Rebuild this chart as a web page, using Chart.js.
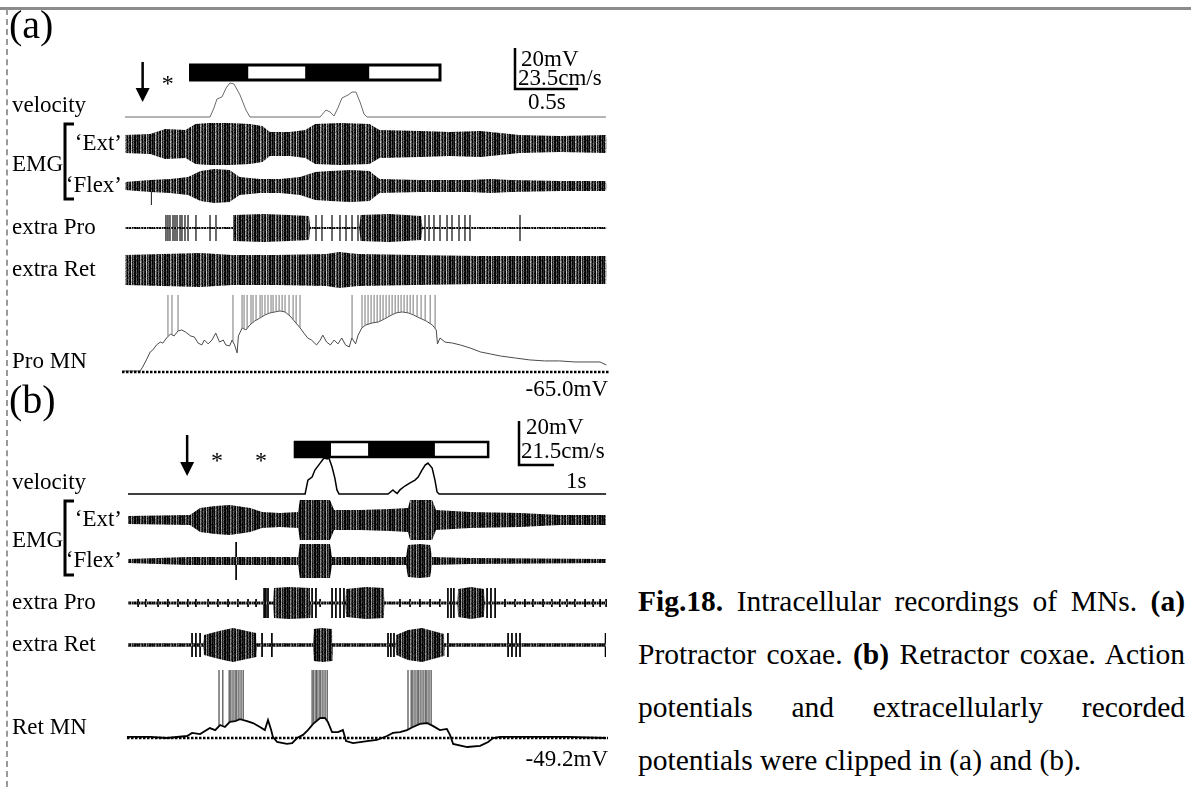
<!DOCTYPE html>
<html>
<head>
<meta charset="utf-8">
<script src="https://cdn.jsdelivr.net/npm/chart.js@4.4.1/dist/chart.umd.min.js"></script>
<style>
  html, body { margin: 0; padding: 0; background: #fff; }
  body { width: 1191px; height: 787px; position: relative; overflow: hidden; font-family: 'Liberation Serif', 'Times New Roman', serif; }
  #topline { position: absolute; left: 0; top: 7px; width: 1191px; border-top: 3px solid #8c8c8c; }
  #vline { position: absolute; left: 6px; top: 9px; height: 778px; border-left: 2px dashed #9a9a9a; }
  #fig { position: absolute; left: 0; top: 0; }
  #caption { position: absolute; left: 638px; top: 575px; width: 547px; font-size: 29.5px; line-height: 53px; color: #000; }
  #caption div { text-align: justify; text-align-last: justify; }
  #caption div.last { text-align-last: left; }
</style>
</head>
<body>
<div id="topline"></div>
<div id="vline"></div>
<canvas id="fig" width="620" height="787"></canvas>
<div id="caption">
  <div><b>Fig.18.</b> Intracellular recordings of MNs. <b>(a)</b></div>
  <div>Protractor coxae. <b>(b)</b> Retractor coxae. Action</div>
  <div>potentials and extracellularly recorded</div>
  <div class="last">potentials were clipped in (a) and (b).</div>
</div>
<script>
// ---------- panel (a): Pro MN, time in s, potentials in mV, velocity in cm/s
const velA_t = [0, 0.675, 0.706, 0.730, 0.770, 0.802, 0.833, 0.865, 0.913, 0.960, 0.992, 1.548, 1.595, 1.627, 1.659, 1.690, 1.722, 1.770, 1.802, 1.833, 1.865, 1.897, 1.921, 3.817]
const velA_v = [0, 0, 5.2, 10.3, 11.5, 16.6, 19.5, 18.9, 12.6, 4.0, 0, 0, 4.0, 2.9, 0.6, 5.2, 10.9, 12.6, 14.3, 14.3, 8.6, 1.7, 0, 0]

// EMG / extracellular envelopes (a.u., outer spread and dense core)
const extA_t = [0, 0.20, 0.32, 0.48, 0.56, 0.67, 0.83, 0.99, 1.09, 1.15, 1.31, 1.43, 1.51, 1.71, 1.94, 2.02, 2.34, 2.58, 2.82, 2.98, 3.13, 3.45, 3.82]
const extA_out = [9, 10, 15, 14, 20, 21, 21, 20, 18, 12, 12, 14, 20, 21, 20, 14, 13, 12, 13, 11, 9, 8, 9]
const extA_in = [6, 6, 7, 7, 9, 10, 10, 9, 8, 7, 7, 8, 10, 10, 9, 8, 7, 7, 7, 6, 5, 5, 5]

const flexA_t = [0, 0.20, 0.36, 0.50, 0.60, 0.71, 0.83, 0.91, 1.07, 1.23, 1.39, 1.51, 1.63, 1.79, 1.94, 2.02, 2.34, 2.74, 2.90, 3.06, 3.45, 3.82]
const flexA_out = [4, 6, 7, 9, 15, 17, 16, 9, 7, 7, 9, 14, 15, 16, 15, 7, 6, 6, 7, 6, 5, 5]
const flexA_in = [2, 3, 3, 4, 6, 6, 6, 4, 3, 3, 4, 6, 6, 6, 5, 3, 3, 3, 3, 3, 2, 2]
const flexA_spk = [0.21]

const proA_t = [0, 0.86, 0.87, 1.10, 1.30, 1.46, 1.47, 1.86, 1.87, 2.10, 2.35, 2.36, 3.82]
const proA_out = [1, 1, 13, 14, 13, 12, 1, 1, 13, 14, 12, 1, 1]
const proA_in = [0.6, 0.6, 5, 6, 5, 4, 0.6, 0.6, 4, 6, 4, 0.6, 0.6]
const proA_spk = [0.325, 0.341, 0.357, 0.381, 0.397, 0.413, 0.437, 0.452, 0.476, 0.500, 0.563, 0.675, 0.722, 0.865,
  1.516, 1.563, 1.643, 1.706, 1.754, 1.802, 1.849, 2.381, 2.413, 2.452, 2.500, 2.556, 2.595, 2.651, 2.698, 2.738, 3.135]

const retA_t = [0, 0.30, 0.60, 0.85, 1.20, 1.60, 1.70, 1.85, 2.30, 2.80, 3.30, 3.82]
const retA_out = [15, 16, 17, 15, 15, 16, 18, 16, 15, 14, 14, 14]
const retA_in = [7, 8, 8, 7, 7, 8, 8, 7, 7, 7, 6, 6]

const mnA_t = [-0.02, 0.12, 0.14, 0.17, 0.20, 0.22, 0.25, 0.28, 0.30, 0.33,
  0.36, 0.39, 0.42, 0.45, 0.48, 0.52, 0.55, 0.58, 0.61, 0.63,
  0.66, 0.69, 0.72, 0.75, 0.78, 0.80, 0.83, 0.85, 0.87, 0.89,
  0.90, 0.93, 0.96, 0.99, 1.03, 1.07, 1.11, 1.15, 1.19, 1.23,
  1.27, 1.31, 1.35, 1.39, 1.42, 1.45, 1.48, 1.52, 1.55, 1.57,
  1.60, 1.63, 1.66, 1.69, 1.72, 1.75, 1.78, 1.80, 1.83, 1.85,
  1.88, 1.91, 1.96, 2.01, 2.06, 2.10, 2.15, 2.20, 2.25, 2.29,
  2.34, 2.39, 2.44, 2.47, 2.48, 2.50, 2.54, 2.60, 2.66, 2.74,
  2.82, 2.90, 2.98, 3.10, 3.21, 3.33, 3.45, 3.57, 3.69, 3.77, 3.82]
const mnA_mV = [-64.5, -64.5, -62.6, -59.1, -55.2, -54.3, -51.8, -50.4, -50.9, -48.4,
  -46.5, -47.4, -45.0, -44.5, -45.5, -47.4, -47.9, -50.9, -51.8, -49.4,
  -51.3, -49.4, -46.0, -50.4, -49.4, -51.8, -52.3, -49.4, -51.8, -55.7,
  -47.4, -43.5, -44.5, -42.1, -40.1, -38.7, -37.2, -36.2, -35.7, -35.2,
  -35.7, -37.7, -40.6, -43.5, -46.0, -48.4, -49.4, -51.8, -49.4, -47.0,
  -50.4, -51.8, -49.4, -51.3, -48.4, -51.8, -52.8, -48.4, -51.3, -47.0,
  -43.5, -42.1, -41.1, -40.6, -39.1, -37.7, -36.2, -35.7, -36.2, -37.2,
  -38.7, -40.1, -42.1, -44.5, -51.3, -48.4, -50.4, -50.9, -51.8, -53.3,
  -55.2, -56.2, -57.2, -58.2, -59.1, -59.6, -59.6, -60.1, -60.1, -60.1, -61.6]
const mnA_spk = [0.341, 0.373, 0.421, 0.857, 0.929, 0.945, 0.969, 1.000, 1.016, 1.040, 1.072, 1.088, 1.111, 1.135,
  1.159, 1.175, 1.199, 1.223, 1.247, 1.270, 1.302, 1.334, 1.358, 1.389,
  1.802, 1.881, 1.905, 1.929, 1.953, 1.977, 2.001, 2.025, 2.048, 2.072, 2.096, 2.120, 2.144, 2.168, 2.191,
  2.215, 2.239, 2.263, 2.287, 2.318, 2.350, 2.382, 2.422, 2.461]
const mnA_rest = -65.0
const mnA_clip = -27.4
const stimA = [0.52, 0.98, 1.43, 1.94, 2.50]
const arrowA = 0.14
const starsA = [0.34]

// ---------- panel (b): Ret MN
const velB_t = [0, 5.06, 5.14, 5.26, 5.34, 5.49, 5.60, 5.69, 5.74, 5.83, 5.91, 5.97, 6.03, 7.43, 7.57, 7.63, 7.69, 7.77, 7.91, 8.06, 8.20, 8.29, 8.40, 8.49, 8.57, 8.69, 8.77, 8.83, 8.89, 13.66]
const velB_v = [0, 0, 6.8, 8.3, 11.7, 15.1, 17.6, 17.1, 17.6, 13.2, 7.8, 2.0, 0, 0, 2.0, 1.0, 0.3, 2.0, 3.9, 5.4, 6.8, 8.3, 11.7, 14.1, 15.1, 12.7, 6.8, 1.0, 0, 0]

const extB_t = [0, 1.77, 2.06, 2.49, 2.91, 3.49, 3.83, 4.34, 4.86, 4.91, 5.34, 5.77, 5.89, 6.63, 7.49, 8.00, 8.06, 8.34, 8.69, 8.80, 9.77, 11.20, 12.34, 13.66]
const extB_out = [4, 5, 12, 14, 15, 12, 8, 7, 8, 20, 20, 20, 10, 10, 11, 12, 20, 20, 20, 10, 8, 7, 5, 5]
const extB_in = [2, 2, 4, 6, 6, 5, 4, 3, 4, 15, 16, 15, 5, 5, 5, 6, 12, 13, 12, 5, 4, 3, 3, 3]

const flexB_t = [0, 1.71, 2.91, 4.34, 4.86, 4.91, 5.34, 5.77, 5.83, 6.63, 7.94, 8.00, 8.34, 8.63, 8.69, 9.77, 13.66]
const flexB_out = [2, 4, 4, 4, 4, 17, 17, 17, 4, 4, 4, 16, 17, 16, 4, 3, 2]
const flexB_in = [1, 2, 2, 2, 2, 8, 9, 8, 2, 2, 2, 7, 8, 7, 2, 2, 1]
const flexB_spk = [3.09]

const proB_t = [0, 4.16, 4.17, 4.60, 5.20, 5.21, 6.22, 6.23, 6.80, 7.31, 7.32, 9.42, 9.43, 9.80, 10.17, 10.18, 13.66]
const proB_out = [1.5, 1.5, 15, 16, 15, 1.5, 1.5, 14, 16, 15, 1.5, 1.5, 14, 16, 14, 1.5, 1.5]
const proB_in = [1, 1, 13, 14, 12, 1, 1, 11, 13, 12, 1, 1, 11, 13, 11, 1, 1]
const proB_spk = [3.89, 3.94, 4.00, 5.26, 5.37, 5.83, 5.94, 6.06, 6.17, 9.14, 9.23, 9.31, 10.26, 10.37, 10.49]
const proB_tick = [0.29, 0.51, 0.86, 1.14, 1.43, 1.71, 1.94, 2.29, 2.57, 2.86, 3.14, 3.43, 3.66, 5.49, 7.77, 8.06, 8.34, 8.63, 8.91,
  10.77, 11.06, 11.34, 11.57, 11.86, 12.11, 12.34, 12.54, 12.77, 13.06, 13.29, 13.49, 13.66]

const retB_t = [0, 2.16, 2.17, 2.60, 3.00, 3.66, 3.67, 5.30, 5.31, 5.55, 5.83, 5.84, 7.65, 7.66, 8.00, 8.40, 9.03, 9.04, 13.66]
const retB_out = [1.5, 1.5, 10, 14, 17, 12, 1.5, 1.5, 16, 17, 16, 1.5, 1.5, 10, 15, 17, 11, 1.5, 1.5]
const retB_in = [1.5, 1.5, 5, 8, 10, 6, 1.5, 1.5, 10, 12, 10, 1.5, 1.5, 5, 8, 10, 5, 1.5, 1.5]
const retB_spk = [1.83, 1.94, 2.06, 3.83, 4.11, 7.43, 7.51, 7.60, 9.14, 10.86, 10.97, 11.09, 11.20, 13.64]

const mnB_t = [-0.03, 0.63, 1.11, 1.69, 1.83, 2.06, 2.34, 2.49, 2.63, 2.77,
  2.91, 3.06, 3.20, 3.40, 3.57, 3.77, 3.91, 4.00, 4.09, 4.14,
  4.26, 4.54, 4.69, 4.83, 5.00, 5.14, 5.29, 5.49, 5.63, 5.71,
  5.83, 6.00, 6.14, 6.23, 6.43, 6.83, 7.11, 7.40, 7.57, 7.77,
  7.97, 8.14, 8.34, 8.54, 8.71, 8.91, 9.11, 9.20, 9.29, 9.69,
  10.06, 10.29, 10.43, 10.63, 11.57, 12.54, 13.66]
const mnB_mV = [-48.7, -48.7, -49.2, -48.3, -46.9, -47.4, -44.7, -45.6, -43.3, -44.2,
  -41.9, -41.5, -40.6, -41.5, -42.4, -44.2, -45.6, -41.0, -45.6, -48.7,
  -51.0, -51.9, -51.5, -49.2, -47.8, -45.6, -42.8, -40.1, -40.1, -41.9,
  -46.5, -46.5, -45.6, -50.6, -51.5, -50.6, -50.1, -48.3, -46.9, -46.5,
  -45.6, -44.2, -42.8, -42.4, -43.7, -45.6, -45.1, -47.8, -51.9, -53.3,
  -52.8, -51.0, -49.2, -48.7, -48.7, -48.7, -49.2]
const mnB_spk = [2.60, 2.71, 2.89, 2.94, 3.00, 3.06, 3.11, 3.17, 3.23, 3.29,
  5.26, 5.31, 5.37, 5.40, 5.46, 5.51, 5.57, 5.63, 5.69,
  8.00, 8.09, 8.14, 8.20, 8.26, 8.31, 8.37, 8.43, 8.49, 8.54, 8.60, 8.66]
const mnB_rest = -49.2
const mnB_clip = -18.3
const stimB = [4.77, 5.80, 6.86, 8.77, 10.29]
const arrowB = 1.69
const starsB = [2.54, 3.80]

// ---------- layout (px)
const W = 620, H = 787
const A = {t0: 125, pps: 126, sb: 41, sbX: 515, sbY: 89, vel: 117, ext: 144, flex: 186, pro: 228, ret: 270, mn: 372, stim: [65, 80], arrow: [62, 102], star: 91}
const B = {t0: 128, pps: 35, sb: 44, sbX: 519, sbY: 465, vel: 494, ext: 520, flex: 561, pro: 603, ret: 645, mn: 738, stim: [442, 457], arrow: [435, 476], star: 468}
const tA = px => (px - A.t0) / A.pps
const tB = px => (px - B.t0) / B.pps
const mvA = A.sb / 20, cmA = A.sb / 23.5
const mvB = B.sb / 20, cmB = B.sb / 21.5

// texture tiles for dense recordings (digit = grey level)
const TILE = [
  '020104203105130',
  '021104203004120',
  '030104212104130',
  '020204103105020',
  '010103203004131',
  '020114302105120',
  '030105202114030',
  '020103213105121',
]
const ctx0 = document.getElementById('fig').getContext('2d')
function texture(levels) {
  const c = document.createElement('canvas')
  c.width = TILE[0].length
  c.height = TILE.length
  const g = c.getContext('2d')
  TILE.forEach((row, y) => row.split('').forEach((d, x) => { g.fillStyle = levels[+d]; g.fillRect(x, y, 1, 1) }))
  return ctx0.createPattern(c, 'repeat')
}
const fuzzA = texture(['#000', '#2a2a2a', '#555', '#7a7a7a', '#a8a8a8', '#d0d0d0'])
const midA = texture(['#000', '#111', '#2a2a2a', '#444', '#666', '#888'])
const fuzzB = texture(['#000', '#222', '#444', '#666', '#8a8a8a', '#b0b0b0'])

const datasets = []
function push(ax, data, opts) {
  datasets.push(Object.assign({xAxisID: ax, yAxisID: 'y', data, pointRadius: 0, tension: 0, fill: false, borderWidth: 1, borderColor: '#000'}, opts))
}
function trace(ax, ts, vs, base, gain, opts) {
  push(ax, ts.map((t, i) => ({x: t, y: base - vs[i] * gain})), opts)
}
function band(ax, ts, amp, mid, color) {
  push(ax, ts.map((t, i) => ({x: t, y: mid - amp[i]})), {borderColor: 'transparent', borderWidth: 0})
  push(ax, ts.map((t, i) => ({x: t, y: mid + amp[i]})), {borderColor: 'transparent', borderWidth: 0, fill: '-1', backgroundColor: color})
}
// outer fuzz, intermediate layer, dense core
function recording(ax, ts, out, inn, mid, fuzz, middle, core) {
  band(ax, ts, out, mid, fuzz)
  if (middle) band(ax, ts, out.map((o, i) => (o + inn[i]) / 2), mid, middle)
  band(ax, ts, inn, mid, core)
}
function spikes(ax, ts, lo, hi, opts) {
  const data = []
  ts.forEach(t => data.push({x: t, y: lo(t)}, {x: t, y: hi(t)}, {x: t, y: null}))
  push(ax, data, Object.assign({spanGaps: false}, opts))
}
function interp(ts, vs, t) {
  for (let i = 1; i < ts.length; i++) {
    if (t <= ts[i]) return vs[i - 1] + (vs[i] - vs[i - 1]) * (t - ts[i - 1]) / (ts[i] - ts[i - 1])
  }
  return vs[vs.length - 1]
}

// panel (a)
trace('xa', velA_t, velA_v, A.vel, cmA, {borderColor: '#6a6a6a', borderWidth: 1})
recording('xa', extA_t, extA_out, extA_in, A.ext, fuzzA, midA, '#0a0a0a')
recording('xa', flexA_t, flexA_out, flexA_in, A.flex, fuzzA, midA, '#0a0a0a')
spikes('xa', flexA_spk, () => A.flex - 4, () => A.flex + 19, {borderColor: '#333'})
recording('xa', proA_t, proA_out, proA_in, A.pro, fuzzA, null, '#3a3a3a')
spikes('xa', proA_spk, () => A.pro - 13, () => A.pro + 13, {borderColor: '#555'})
recording('xa', retA_t, retA_out, retA_in, A.ret, fuzzA, midA, '#0a0a0a')
push('xa', [{x: tA(122), y: A.mn}, {x: tA(610), y: A.mn}], {borderColor: '#000', borderWidth: 2.5, borderDash: [2.5, 1.5]})
spikes('xa', mnA_spk,
  t => A.mn - (interp(mnA_t, mnA_mV, t) - mnA_rest) * mvA,
  () => A.mn - (mnA_clip - mnA_rest) * mvA,
  {borderColor: '#777'})
trace('xa', mnA_t, mnA_mV.map(v => v - mnA_rest), A.mn, mvA, {borderColor: '#4a4a4a', borderWidth: 1})
push('xa', [{x: tA(A.sbX), y: A.sbY - 20 * mvA}, {x: tA(A.sbX), y: A.sbY}, {x: tA(A.sbX) + 0.5, y: A.sbY}], {borderWidth: 2.5})

// panel (b)
trace('xb', velB_t, velB_v, B.vel, cmB, {borderColor: '#000', borderWidth: 1.5})
recording('xb', extB_t, extB_out, extB_in, B.ext, fuzzB, null, '#000')
recording('xb', flexB_t, flexB_out, flexB_in, B.flex, fuzzB, null, '#000')
spikes('xb', flexB_spk, () => B.flex - 19, () => B.flex + 19, {borderColor: '#000'})
recording('xb', proB_t, proB_out, proB_in, B.pro, fuzzB, null, '#000')
spikes('xb', proB_spk, () => B.pro - 15, () => B.pro + 15, {borderColor: '#000'})
spikes('xb', proB_tick, () => B.pro - 4, () => B.pro + 4, {borderColor: '#000'})
recording('xb', retB_t, retB_out, retB_in, B.ret, fuzzB, null, '#000')
spikes('xb', retB_spk, () => B.ret - 12, () => B.ret + 12, {borderColor: '#000'})
push('xb', [{x: tB(127), y: B.mn}, {x: tB(608), y: B.mn}], {borderColor: '#000', borderWidth: 2.5, borderDash: [2.5, 1.5]})
spikes('xb', mnB_spk,
  t => B.mn - (interp(mnB_t, mnB_mV, t) - mnB_rest) * mvB,
  () => B.mn - (mnB_clip - mnB_rest) * mvB,
  {borderColor: '#222'})
trace('xb', mnB_t, mnB_mV.map(v => v - mnB_rest), B.mn, mvB, {borderColor: '#000', borderWidth: 1.8})
push('xb', [{x: tB(B.sbX), y: B.sbY - 20 * mvB}, {x: tB(B.sbX), y: B.sbY}, {x: tB(B.sbX) + 1, y: B.sbY}], {borderWidth: 2.5})

const LABEL_FONT = '23px "Liberation Serif", "Times New Roman", serif'
const textsLeft = [
  ['velocity', 12, A.vel - 11], ['EMG', 12, 165], ['extra Pro', 12, A.pro], ['extra Ret', 12, A.ret], ['Pro MN', 12, 362],
  ['20mV', 521, 60], ['23.5cm/s', 518, 79], ['0.5s', 528, 103],
  ['velocity', 12, B.vel - 11], ['EMG', 12, 541], ['extra Pro', 12, B.pro], ['extra Ret', 12, B.ret], ['Ret MN', 12, 728],
  ['20mV', 526, 428], ['21.5cm/s', 521, 452], ['1s', 566, 482],
]
const textsRight = [
  ['\u2018Ext\u2019', 122, A.ext], ['\u2018Flex\u2019', 122, A.flex], ['-65.0mV', 608, 390],
  ['\u2018Ext\u2019', 122, B.ext], ['\u2018Flex\u2019', 122, B.flex], ['-49.2mV', 608, 760],
]

function drawStim(ctx, sc, edges, y0, y1, lw) {
  for (let i = 0; i < edges.length - 1; i++) {
    const a = sc.getPixelForValue(edges[i]), b = sc.getPixelForValue(edges[i + 1])
    ctx.fillStyle = i % 2 ? '#fff' : '#000'
    ctx.fillRect(a, y0, b - a, y1 - y0)
  }
  const l = sc.getPixelForValue(edges[0]), r = sc.getPixelForValue(edges[edges.length - 1])
  ctx.lineWidth = lw
  ctx.strokeStyle = '#000'
  ctx.strokeRect(l, y0, r - l, y1 - y0)
}
function drawArrow(ctx, x, y0, y1) {
  ctx.strokeStyle = '#000'
  ctx.lineWidth = 2.5
  ctx.beginPath(); ctx.moveTo(x, y0); ctx.lineTo(x, y1 - 12); ctx.stroke()
  ctx.fillStyle = '#000'
  ctx.beginPath(); ctx.moveTo(x - 7, y1 - 14); ctx.lineTo(x + 7, y1 - 14); ctx.lineTo(x, y1); ctx.closePath(); ctx.fill()
}
function drawBracket(ctx, x, y0, y1) {
  ctx.strokeStyle = '#000'
  ctx.lineWidth = 3
  ctx.beginPath(); ctx.moveTo(x + 9, y0); ctx.lineTo(x, y0); ctx.lineTo(x, y1); ctx.lineTo(x + 9, y1); ctx.stroke()
}

const deco = {
  id: 'deco',
  afterDatasetsDraw(chart) {
    const ctx = chart.ctx, xa = chart.scales.xa, xb = chart.scales.xb
    ctx.save()
    drawStim(ctx, xa, stimA, A.stim[0], A.stim[1], 3)
    drawStim(ctx, xb, stimB, B.stim[0], B.stim[1], 2.5)
    drawArrow(ctx, xa.getPixelForValue(arrowA), A.arrow[0], A.arrow[1])
    drawArrow(ctx, xb.getPixelForValue(arrowB), B.arrow[0], B.arrow[1])
    drawBracket(ctx, 65, 124, 199)
    drawBracket(ctx, 65, 501, 575)
    ctx.fillStyle = '#000'
    ctx.font = '24px "Liberation Serif", serif'
    ctx.textAlign = 'center'
    ctx.textBaseline = 'alphabetic'
    starsA.forEach(t => ctx.fillText('*', xa.getPixelForValue(t), A.star))
    starsB.forEach(t => ctx.fillText('*', xb.getPixelForValue(t), B.star))
    ctx.font = '40px "Liberation Serif", serif'
    ctx.textAlign = 'left'
    ctx.fillText('(a)', 9, 38)
    ctx.fillText('(b)', 9, 413)
    ctx.font = LABEL_FONT
    ctx.textBaseline = 'middle'
    textsLeft.forEach(([s, x, y]) => ctx.fillText(s, x, y))
    ctx.textAlign = 'right'
    textsRight.forEach(([s, x, y]) => ctx.fillText(s, x, y))
    ctx.restore()
  }
}

new Chart(ctx0, {
  type: 'line',
  data: {datasets},
  options: {
    responsive: false,
    animation: false,
    events: [],
    layout: {padding: 0},
    plugins: {legend: {display: false}, tooltip: {enabled: false}},
    scales: {
      xa: {type: 'linear', display: false, min: tA(0), max: tA(W)},
      xb: {type: 'linear', display: false, min: tB(0), max: tB(W)},
      y: {type: 'linear', display: false, min: 0, max: H, reverse: true},
    },
  },
  plugins: [deco],
})
</script>
</body>
</html>
